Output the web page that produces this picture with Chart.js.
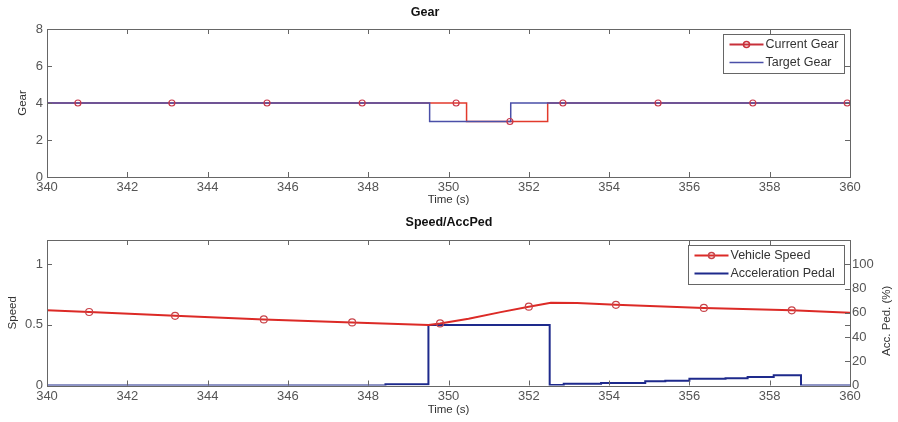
<!DOCTYPE html>
<html>
<head>
<meta charset="utf-8">
<script src="https://cdn.jsdelivr.net/npm/chart.js@4.4.4/dist/chart.umd.min.js"></script>
<style>
  html, body { margin: 0; padding: 0; background: #fff; }
  .box { position: absolute; left: 0; width: 898px; height: 211px; }
  #top { top: 0; }
  #bot { top: 211px; }
</style>
</head>
<body>
<div class="box" id="top"><canvas id="gear"></canvas></div>
<div class="box" id="bot"><canvas id="speed"></canvas></div>
<script>
// Gear (top) and Speed/AccPed (bottom).
const timeTicks = [340, 342, 344, 346, 348, 350, 352, 354, 356, 358, 360];
const gearTicks = [0, 2, 4, 6, 8];
const speedTicks = [0, 0.5, 1];
const pedalTicks = [0, 20, 40, 60, 80, 100];

// step change points
const currentGearTime = [340, 350.45, 352.47, 360];
const currentGear = [4, 3, 4, 4];
const targetGearTime = [340, 349.53, 351.55, 360];
const targetGear = [4, 3, 4, 4];
const gearMarkTime = [340.77, 343.11, 345.48, 347.85, 350.19, 351.53, 352.85, 355.22, 357.58, 359.93];
const gearMarkValue = [4, 4, 4, 4, 4, 3, 4, 4, 4, 4];

const speedTime = [340, 341.05, 343.19, 345.4, 347.6, 349.5, 349.79, 350.5, 351.3, 352.0, 352.55, 353.2, 354.17, 356.36, 358.55, 360];
const speed = [0.62, 0.606, 0.575, 0.545, 0.52, 0.50, 0.512, 0.55, 0.605, 0.65, 0.683, 0.68, 0.665, 0.64, 0.62, 0.60];
const speedMarkTime = [341.05, 343.19, 345.4, 347.6, 349.79, 352.0, 354.17, 356.36, 358.55];
const speedMarkValue = [0.606, 0.575, 0.545, 0.52, 0.512, 0.65, 0.665, 0.64, 0.62];

const pedalTime = [340, 348.43, 349.5, 352.52, 352.87, 353.8, 354.9, 355.4, 356.0, 356.9, 357.45, 358.1, 358.78, 360];
const pedal = [0, 1, 50, 0.5, 1.5, 2, 3.5, 4, 5.5, 6, 7, 8.5, 0, 0];

const FONT = 'Liberation Sans, Arial, sans-serif';
const TICK_COLOR = '#555';
const FRAME = '#666';

const xy = (xs, ys) => xs.map((x, i) => ({ x, y: ys[i] }));
const fixTicks = (vals) => (scale) => { scale.ticks = vals.map((v) => ({ value: v })); };

// MATLAB style box with inward tick marks on every side
const framePlugin = {
    id: 'frame',
    afterDatasetsDraw(chart) {
        const { ctx, chartArea: a, scales } = chart;
        const len = 5;
        ctx.save();
        ctx.strokeStyle = FRAME;
        ctx.lineWidth = 1;
        ctx.beginPath();
        for (const t of scales.x.ticks) {
            const px = Math.round(scales.x.getPixelForValue(t.value)) + 0.5;
            ctx.moveTo(px, a.bottom); ctx.lineTo(px, a.bottom - len);
            ctx.moveTo(px, a.top); ctx.lineTo(px, a.top + len);
        }
        for (const t of scales.y.ticks) {
            const py = Math.round(scales.y.getPixelForValue(t.value)) + 0.5;
            ctx.moveTo(a.left, py); ctx.lineTo(a.left + len, py);
            ctx.moveTo(a.right, py); ctx.lineTo(a.right - len, py);
        }
        if (scales.y1) {
            for (const t of scales.y1.ticks) {
                const py = Math.round(scales.y1.getPixelForValue(t.value)) + 0.5;
                ctx.moveTo(a.right, py); ctx.lineTo(a.right - len, py);
            }
        }
        ctx.stroke();
        ctx.strokeRect(Math.round(a.left) + 0.5, Math.round(a.top) + 0.5, Math.round(a.right - a.left), Math.round(a.bottom - a.top));
        ctx.restore();
    },
};

function legendPlugin(items, boxW) {
    return {
        id: 'boxLegend',
        afterDraw(chart) {
            const { ctx, chartArea: a } = chart;
            const rowH = 18;
            const h = items.length * rowH + 3;
            const x0 = Math.round(a.right - 6 - boxW) + 0.5;
            const y0 = Math.round(a.top + 5) + 0.5;
            ctx.save();
            ctx.fillStyle = '#fff';
            ctx.fillRect(x0, y0, boxW, h);
            ctx.strokeStyle = FRAME;
            ctx.lineWidth = 1;
            ctx.strokeRect(x0, y0, boxW, h);
            ctx.font = '12.5px ' + FONT;
            ctx.textBaseline = 'middle';
            items.forEach((it, i) => {
                const cy = y0 + 10 + i * rowH;
                ctx.strokeStyle = it.color;
                ctx.lineWidth = it.width;
                ctx.beginPath();
                ctx.moveTo(x0 + 6, cy); ctx.lineTo(x0 + 40, cy);
                ctx.stroke();
                if (it.marker) {
                    ctx.lineWidth = 1.5;
                    ctx.strokeStyle = it.marker;
                    ctx.beginPath();
                    ctx.arc(x0 + 23, cy, 3, 0, Math.PI * 2);
                    ctx.stroke();
                }
                ctx.fillStyle = '#333';
                ctx.fillText(it.label, x0 + 42, cy);
            });
            ctx.restore();
        },
    };
}

const tickFont = { family: FONT, size: 13 };
const titleFont = { family: FONT, size: 11.5 };

function xScale(height, pad, titlePadBottom) {
    return {
        type: 'linear', min: 340, max: 360,
        afterBuildTicks: fixTicks(timeTicks),
        afterFit(s) { s.height = height; },
        grid: { display: false, drawTicks: false },
        border: { display: false },
        ticks: { font: tickFont, color: TICK_COLOR, padding: pad, maxRotation: 0, callback: (v) => String(v) },
        title: { display: true, text: 'Time (s)', font: titleFont, color: '#333', padding: { top: 0, bottom: titlePadBottom } },
    };
}

new Chart(document.getElementById('gear'), {
    type: 'line',
    data: {
        datasets: [
            { label: 'markers', data: xy(gearMarkTime, gearMarkValue), showLine: false, pointRadius: 3, pointBorderWidth: 1.2, pointBorderColor: '#c8384a', pointBackgroundColor: 'rgba(0,0,0,0)', order: 0 },
            { label: 'Target Gear', data: xy(targetGearTime, targetGear), stepped: 'before', borderColor: '#4a4fa8', borderWidth: 1.5, pointRadius: 0, order: 1 },
            { label: 'Current Gear', data: xy(currentGearTime, currentGear), stepped: 'before', borderColor: '#e23a2c', borderWidth: 1.5, pointRadius: 0, order: 2 },
        ],
    },
    options: {
        responsive: true, maintainAspectRatio: false, animation: false,
        layout: { padding: { left: 0, right: 48, top: 0, bottom: 0 } },
        plugins: {
            legend: { display: false }, tooltip: { enabled: false },
            title: { display: true, text: 'Gear', color: '#111', font: { family: FONT, size: 12.5, weight: 'bold' }, padding: { top: 5, bottom: 9 } },
        },
        scales: {
            x: xScale(34, 2.5, 4),
            y: {
                min: 0, max: 8,
                afterBuildTicks: fixTicks(gearTicks),
                afterFit(s) { s.width = 47; },
                grid: { display: false, drawTicks: false },
                border: { display: false },
                ticks: { font: tickFont, color: TICK_COLOR, padding: 4 },
                title: { display: true, text: 'Gear', font: titleFont, color: '#333', padding: { top: 16, bottom: 0 } },
            },
        },
    },
    plugins: [framePlugin, legendPlugin([
        { label: 'Current Gear', color: '#c8303a', width: 2, marker: '#c8303a' },
        { label: 'Target Gear', color: '#4a4fa8', width: 1.5 },
    ], 121)],
});

// right-hand axis title reads bottom-to-top like the left one
const rightTitle = {
    id: 'rightTitle',
    afterDraw(chart) {
        const { ctx, chartArea: a } = chart;
        ctx.save();
        ctx.translate(887, (a.top + a.bottom) / 2 + 8);
        ctx.rotate(-Math.PI / 2);
        ctx.font = '11.5px ' + FONT;
        ctx.fillStyle = '#333';
        ctx.textAlign = 'center';
        ctx.textBaseline = 'middle';
        ctx.fillText('Acc. Ped. (%)', 0, 0);
        ctx.restore();
    },
};

new Chart(document.getElementById('speed'), {
    type: 'line',
    data: {
        datasets: [
            { label: 'markers', data: xy(speedMarkTime, speedMarkValue), yAxisID: 'y', showLine: false, pointRadius: 3.5, pointBorderWidth: 1.2, pointBorderColor: '#c8444a', pointBackgroundColor: 'rgba(0,0,0,0)', order: 0 },
            { label: 'Vehicle Speed', data: xy(speedTime, speed), yAxisID: 'y', borderColor: '#dc2a26', borderWidth: 2, pointRadius: 0, tension: 0, order: 1 },
            { label: 'Acceleration Pedal', data: xy(pedalTime, pedal), yAxisID: 'y1', stepped: 'before', borderColor: '#1e2a8c', borderWidth: 2, pointRadius: 0, order: 2 },
        ],
    },
    options: {
        responsive: true, maintainAspectRatio: false, animation: false,
        layout: { padding: 0 },
        plugins: {
            legend: { display: false }, tooltip: { enabled: false },
            title: { display: true, text: 'Speed/AccPed', color: '#111', font: { family: FONT, size: 12.5, weight: 'bold' }, padding: { top: 4, bottom: 10 } },
        },
        scales: {
            x: xScale(36.5, 3, 5),
            y: {
                position: 'left', min: 0, max: 1.2,
                afterBuildTicks: fixTicks(speedTicks),
                afterFit(s) { s.width = 47; },
                grid: { display: false, drawTicks: false },
                border: { display: false },
                ticks: { font: tickFont, color: TICK_COLOR, padding: 4, callback: (v) => String(v) },
                title: { display: true, text: 'Speed', font: titleFont, color: '#333', padding: { top: 6, bottom: 0 } },
            },
            y1: {
                position: 'right', min: 0, max: 120,
                afterBuildTicks: fixTicks(pedalTicks),
                afterFit(s) { s.width = 48; },
                grid: { display: false, drawTicks: false },
                border: { display: false },
                ticks: { font: tickFont, color: TICK_COLOR, padding: 2, callback: (v) => String(v) },
            },
        },
    },
    plugins: [framePlugin, rightTitle, legendPlugin([
        { label: 'Vehicle Speed', color: '#dc2a26', width: 2, marker: '#c8444a' },
        { label: 'Acceleration Pedal', color: '#1e2a8c', width: 2 },
    ], 156)],
});
</script>
</body>
</html>
